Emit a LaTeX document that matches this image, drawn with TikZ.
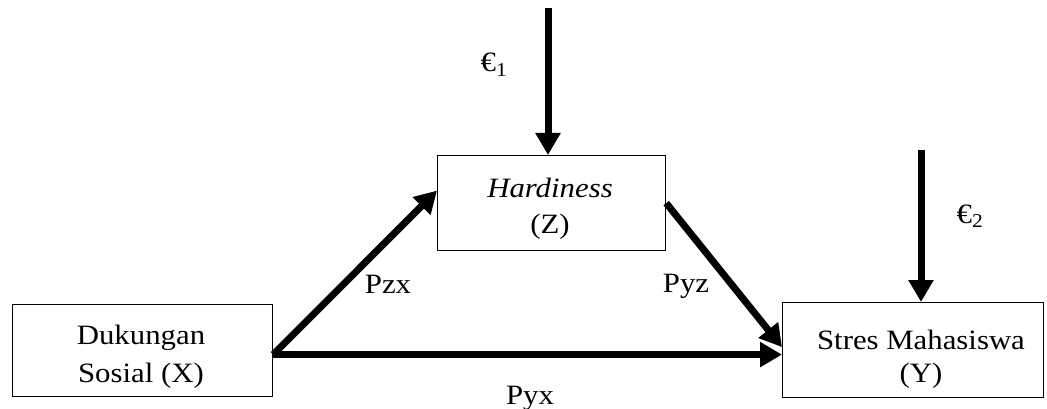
\documentclass[tikz,border=0pt]{standalone}
\usepackage{fontspec}
\setmainfont[FakeStretch=1.1]{Liberation Serif}
\usetikzlibrary{arrows.meta}
\begin{document}
\begin{tikzpicture}[x=1pt,y=-1pt,
  boxnode/.style={draw=black,line width=1.2pt,rectangle,inner sep=0pt,anchor=north west},
  txt/.style={font=\fontsize{28}{32}\selectfont,anchor=base,inner sep=0pt},
  bigarrow/.style={line width=7pt,-{Triangle[length=22pt,width=24pt]}}]
\useasboundingbox (0,0) rectangle (1047,409);
% boxes
\node[boxnode,minimum width=260pt,minimum height=92pt] (xbox) at (12,304) {};
\node[boxnode,minimum width=228pt,minimum height=95pt] (zbox) at (437,155) {};
\node[boxnode,minimum width=261pt,minimum height=95pt] (ybox) at (782,302) {};
% box texts
\node[txt] (x1) at (141,344) {Dukungan};
\node[txt] (x2) at (141,382) {Sosial (X)};
\node[txt] (z1) at (550,197) {\itshape Hardiness};
\node[txt] (z2) at (550,233) {(Z)};
\node[txt] (y1) at (921,349) {Stres Mahasiswa};
\node[txt] (y2) at (921,382) {(Y)};
% path labels
\node[txt] (pzx) at (388,293) {Pzx};
\node[txt] (pyz) at (686,292) {Pyz};
\node[txt] (pyx) at (530,404) {Pyx};
\node[txt] (e1) at (494,72) {€\textsubscript{1}};
\node[txt] (e2) at (970,223) {€\textsubscript{2}};
% connectors
\coordinate (e1top) at (548,8);
\coordinate (e2top) at (921,150);
\coordinate (xo) at ([yshift=-4pt]xbox.east);
\draw[bigarrow] (e1top) -- (e1top |- zbox.north);
\draw[bigarrow] (e2top) -- (e2top |- ybox.north);
\draw[bigarrow] (xo) -- ([yshift=12.5pt]zbox.west);
\draw[bigarrow] (zbox.east) -- ([yshift=3pt]ybox.west);
\draw[bigarrow] (xo) -- (xo -| ybox.west);
\end{tikzpicture}
\end{document}
